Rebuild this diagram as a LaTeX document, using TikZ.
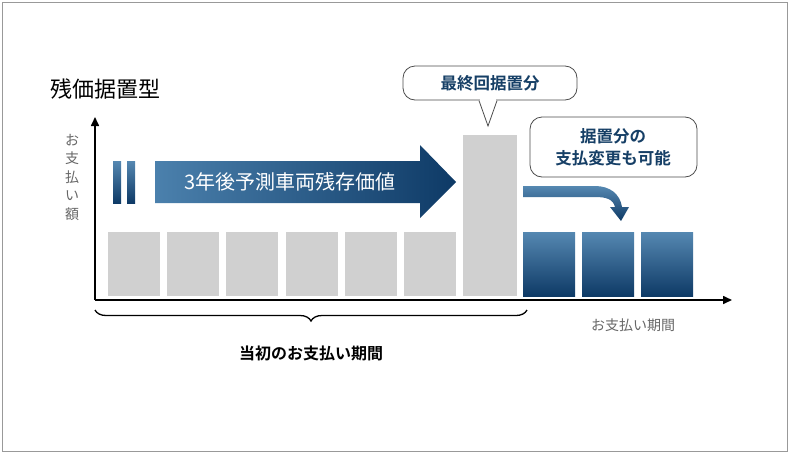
\documentclass[tikz,border=0pt]{standalone}
\usepackage{fontspec}
\newfontfamily\cjk{Noto Sans CJK JP}[BoldFont={Noto Sans CJK JP Bold}]
\usetikzlibrary{decorations.pathreplacing,arrows.meta}
\definecolor{bluetop}{HTML}{2B6A9E}
\definecolor{bluebot}{HTML}{0E3A66}
\definecolor{grayb}{HTML}{D0D0D0}
\definecolor{txtblue}{HTML}{163F66}
\definecolor{lbl}{HTML}{666666}
\tikzset{
  graybar/.style={fill=grayb,draw=none},
  bluebar/.style={top color=bluetop!80!white,bottom color=bluebot,draw=none},
  callout/.style={draw=black!70,line width=0.8pt,fill=white,rounded corners=12pt},
  ctext/.style={font=\cjk\bfseries\fontsize{16.5}{20}\selectfont,text=txtblue,align=center},
}
\begin{document}
\begin{tikzpicture}[x=1pt,y=-1pt]
\useasboundingbox (0,0) rectangle (789,453);
\draw[black!40,line width=0.8pt] (2,2) rectangle (787,451);
% title
\node[font=\cjk\fontsize{22}{26}\selectfont,anchor=west,inner sep=0] (title) at (50,89) {残価据置型};
% y label
\node[font=\cjk\fontsize{14}{18.5}\selectfont,text=lbl,align=center,inner sep=0] (ylab) at (72,177) {お\\支\\払\\い\\額};
% bars
\foreach \x [count=\i] in {108,167,226,286,345,404}
  \path[graybar] (\x,232) rectangle ++(52,64);
\path[graybar] (463,135) rectangle (517,296);
\foreach \x in {523,582,641}
  \path[bluebar] (\x,232) rectangle ++(52,64);
% big arrow
\path[bluebar] (113,161) rectangle (121,203);
\path[bluebar] (127,161) rectangle (135,203);
\path[left color=bluetop!85!white,right color=bluebot] (155,161) -- (420,161) -- (420,145) -- (456,182) -- (420,218) -- (420,203) -- (155,203) -- cycle;
\node[font=\cjk\fontsize{20}{22}\selectfont,text=white] (arrtext) at (290,182) {3年後予測車両残存価値};
% axes
\coordinate (o) at (95,300);
\coordinate (yt) at (95,117);
\coordinate (xt) at (732,300);
\draw[line width=1.6pt,-{Triangle[length=9pt,width=8pt]}] (o) -- (yt);
\draw[line width=1.6pt,-{Triangle[length=9pt,width=8pt]}] (o) -- (xt);
% callout 1
\draw[callout] (403,66) rectangle (577,100);
\draw[black!70,line width=0.8pt,fill=white] (479,100.6) -- (488,126) -- (497,100.6);
\fill[white] (479.6,99) rectangle (496.4,101.4);
\node[ctext] (c1) at (490,83) {最終回据置分};
% callout 2
\draw[callout] (530,117) rectangle (697,177);
\node[ctext,font=\cjk\bfseries\fontsize{16.5}{22}\selectfont] (c2) at (613,147) {据置分の\\支払変更も可能};
% curved arrow
\path[top color=bluetop!80!white,bottom color=bluebot] (523,186) -- (595,186) .. controls (610,186) and (620,194) .. (622,207) -- (629,207) -- (621,221) -- (610,207) -- (615,207) .. controls (613,199) and (606,197) .. (595,197) -- (523,197) -- cycle;
% brace
\coordinate (b1) at (95,310);
\coordinate (b2) at (527,310);
\draw[line width=1.3pt,decorate,decoration={brace,mirror,amplitude=11pt}] (b1) -- (b2);
\node[font=\cjk\bfseries\fontsize{16}{19}\selectfont] (blab) at (311,353) {当初のお支払い期間};
\node[font=\cjk\fontsize{14}{16}\selectfont,text=lbl] (xlab) at (633,325) {お支払い期間};
\end{tikzpicture}
\end{document}
